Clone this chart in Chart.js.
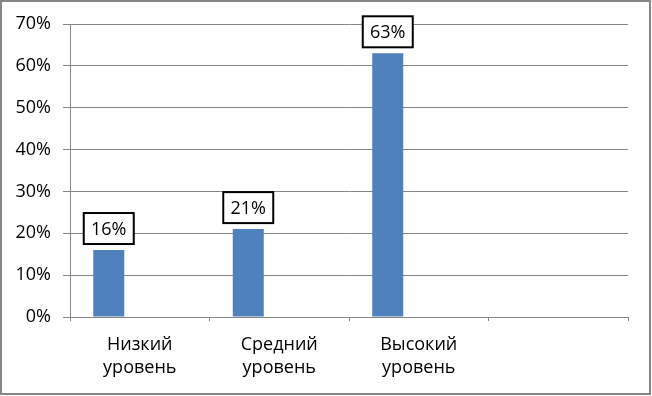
<!DOCTYPE html>
<html>
<head>
<meta charset="utf-8">
<script src="https://cdn.jsdelivr.net/npm/chart.js@4.4.1/dist/chart.umd.min.js"></script>
<style>
  html, body { margin: 0; padding: 0; background: #fff; }
  #wrap { width: 652px; height: 396px; position: relative; }
</style>
</head>
<body>
<div id="wrap"><canvas id="c" width="652" height="396"></canvas></div>
<script>
const categories = [['Низкий', 'уровень'], ['Средний', 'уровень'], ['Высокий', 'уровень'], ''];
const seriesLevel = [16, 21, 63, null];
const seriesEmpty2 = [null, null, null, null];
const seriesEmpty3 = [null, null, null, null];
const yTickMax = 70;
const yTickStep = 10;

const FONT = '"Open Sans", "DejaVu Sans", sans-serif';
const GRID = '#868686';

const frame = {
  id: 'frame',
  afterDraw(chart) {
    const ctx = chart.ctx;
    ctx.save();
    ctx.strokeStyle = GRID;
    ctx.lineWidth = 2;
    ctx.strokeRect(1, 1, 649, 393);
    ctx.restore();
  }
};

const boxLabels = {
  id: 'boxLabels',
  afterDatasetsDraw(chart) {
    const ctx = chart.ctx;
    const meta = chart.getDatasetMeta(0);
    const data = chart.data.datasets[0].data;
    ctx.save();
    ctx.font = '18px ' + FONT;
    ctx.textAlign = 'center';
    ctx.textBaseline = 'middle';
    meta.data.forEach((bar, i) => {
      const v = data[i];
      if (v === null || v === undefined) return;
      const w = 50, h = 31;
      const cx = bar.x;
      const bottom = bar.y - 6;
      const top = bottom - h;
      ctx.fillStyle = '#fff';
      ctx.fillRect(cx - w / 2, top, w, h);
      ctx.strokeStyle = '#000';
      ctx.lineWidth = 2;
      ctx.strokeRect(cx - w / 2, top, w, h);
      ctx.fillStyle = '#000';
      ctx.fillText(v + '%', cx, top + h / 2 + 1);
    });
    ctx.restore();
  }
};

new Chart(document.getElementById('c'), {
  type: 'bar',
  data: {
    labels: categories,
    datasets: [
      { data: seriesLevel, backgroundColor: '#4F81BD', categoryPercentage: 3 / 4.5, barPercentage: 1 },
      { data: seriesEmpty2, backgroundColor: '#C0504D', categoryPercentage: 3 / 4.5, barPercentage: 1 },
      { data: seriesEmpty3, backgroundColor: '#9BBB59', categoryPercentage: 3 / 4.5, barPercentage: 1 }
    ]
  },
  options: {
    responsive: false,
    animation: false,
    events: [],
    layout: { padding: { left: 0, right: 24, top: 24, bottom: 0 } },
    plugins: { legend: { display: false }, tooltip: { enabled: false } },
    scales: {
      x: {
        offset: true,
        grid: { display: true, drawOnChartArea: false, drawTicks: true, tickLength: 4, color: GRID, lineWidth: 1, offset: true },
        border: { display: true, color: GRID, width: 1 },
        ticks: { color: '#000', font: { family: FONT, size: 18, lineHeight: 1.28 }, padding: 12, maxRotation: 0, autoSkip: false },
        afterFit(scale) { scale.height = 396 - 317; }
      },
      y: {
        min: 0,
        max: yTickMax,
        grid: { color: GRID, lineWidth: 1, tickLength: 7 },
        border: { display: true, color: GRID, width: 1 },
        ticks: { stepSize: yTickStep, color: '#000', font: { family: FONT, size: 18 }, padding: 12, callback: v => v + '%' },
        afterFit(scale) { scale.width = 70; }
      }
    }
  },
  plugins: [boxLabels, frame]
});
</script>
</body>
</html>
